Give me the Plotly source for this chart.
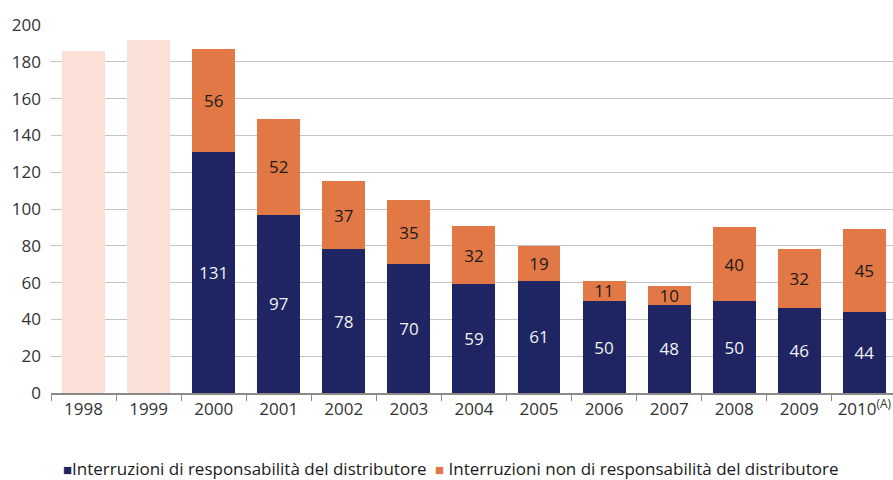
import plotly.graph_objects as go

years = ["1998", "1999", "2000", "2001", "2002", "2003", "2004", "2005", "2006", "2007", "2008", "2009", "2010"]
tick_labels = ["1998", "1999", "2000", "2001", "2002", "2003", "2004", "2005", "2006", "2007", "2008", "2009",
               "2010<sup>(A)</sup>"]
total_years = ["1998", "1999"]
total_values = [186, 192]
dist_years = years[2:]
dist_values = [131, 97, 78, 70, 59, 61, 50, 48, 50, 46, 44]
non_dist_values = [56, 52, 37, 35, 32, 19, 11, 10, 40, 32, 45]
legend_names = ["Interruzioni di responsabilità del distributore",
                "Interruzioni non di responsabilità del distributore"]

NAVY = "#1e2562"
ORANGE = "#e27845"
PINK = "#fbe0d8"
FONT = "Open Sans"

W, H = 893, 480

fig = go.Figure()
fig.add_trace(go.Bar(x=total_years, y=total_values, marker=dict(color=PINK, line=dict(width=0)),
                     showlegend=False, hoverinfo="skip"))
fig.add_trace(go.Bar(x=dist_years, y=dist_values, name=legend_names[0], showlegend=False,
                     marker=dict(color=NAVY, line=dict(width=0)),
                     text=dist_values, textposition="inside", insidetextanchor="middle", textangle=0,
                     constraintext="none",
                     textfont=dict(color="#f2f2f2", size=17, family=FONT)))
fig.add_trace(go.Bar(x=dist_years, y=non_dist_values, name=legend_names[1], showlegend=False,
                     marker=dict(color=ORANGE, line=dict(width=0)),
                     text=non_dist_values, textposition="inside", insidetextanchor="middle", textangle=0,
                     constraintext="none",
                     textfont=dict(color="#1a1a1a", size=17, family=FONT)))

# legend as text annotations
leg_y = (393 - 468) / 368
fig.add_annotation(xref="paper", yref="paper", x=(61 - 51) / 842, y=leg_y, xanchor="left", yanchor="middle",
                   showarrow=False, align="left",
                   text=f"<span style='color:{NAVY}; font-size:15px'>■</span>{legend_names[0]}",
                   font=dict(family=FONT, size=17, color="#1a1a1a"))
fig.add_annotation(xref="paper", yref="paper", x=(433 - 51) / 842, y=leg_y, xanchor="left", yanchor="middle",
                   showarrow=False, align="left",
                   text=f"<span style='color:{ORANGE}; font-size:15px'>■</span> {legend_names[1]}",
                   font=dict(family=FONT, size=17, color="#1a1a1a"))

fig.update_layout(
    width=W, height=H,
    barmode="stack", bargap=0.34,
    margin=dict(l=51, r=0, t=25, b=87),
    paper_bgcolor="white", plot_bgcolor="white",
    font=dict(family=FONT, size=17, color="#333333"),
    uniformtext=dict(minsize=17, mode="show"),
    showlegend=False,
    xaxis=dict(type="category", categoryorder="array", categoryarray=years,
               tickvals=years, ticktext=tick_labels, range=[-0.5, 12.44], automargin=False,
               showgrid=False, showline=True, linecolor="#8a8a8a", linewidth=1.5,
               ticks="outside", tickson="boundaries", ticklen=6, tickcolor="#8a8a8a",
               tickfont=dict(size=17, color="#333333")),
    yaxis=dict(range=[0, 200], dtick=20, showgrid=True, gridcolor="#c4c4c4", gridwidth=1,
               zeroline=False, showline=False, ticks="", ticklabelstandoff=9, automargin=False,
               tickfont=dict(size=17, color="#333333")),
)

fig.write_html("out.html", config={"displayModeBar": False},
               post_script="document.body.style.margin='0';document.body.style.overflow='hidden';")
